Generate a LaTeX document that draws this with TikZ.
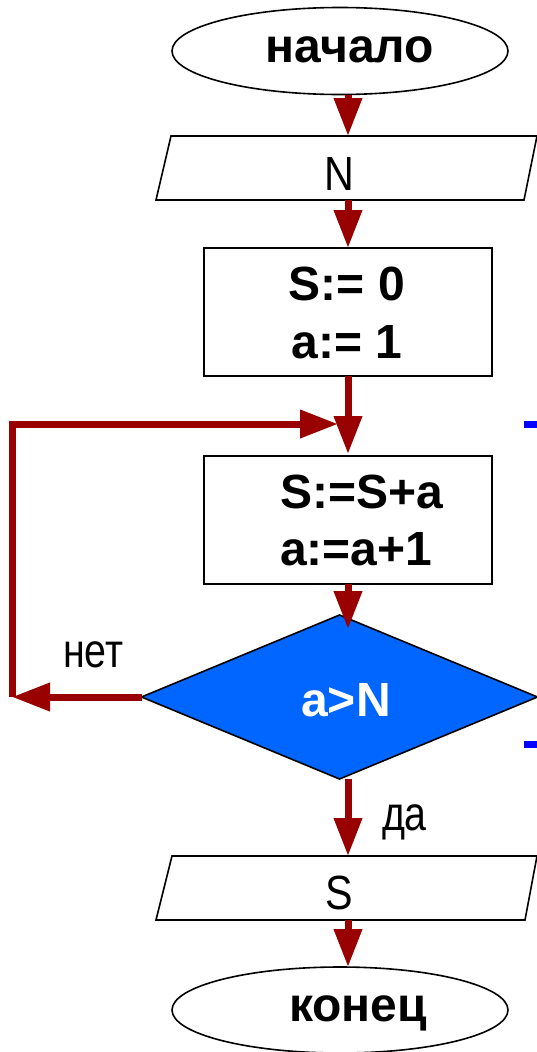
\documentclass[tikz,border=0pt]{standalone}
\usepackage{fontspec}
\setmainfont{Liberation Sans}
\usetikzlibrary{shapes.geometric, arrows.meta, calc}
\definecolor{flowred}{HTML}{990000}
\definecolor{dblue}{HTML}{0066FF}
\definecolor{dashblue}{HTML}{0000FF}
\begin{document}
\begin{tikzpicture}[x=1pt,y=-1pt,
  every node/.style={inner sep=0pt, outer sep=0pt},
  outline/.style={draw=black, line width=1.6pt},
  flow/.style={draw=flowred, line width=7pt, -{Triangle[length=38pt,width=27pt]}},
  regtxt/.style={font=\fontsize{48}{58}\selectfont, anchor=base},
  boldtxt/.style={font=\fontsize{48}{58}\selectfont\bfseries, anchor=base},
  iobox/.style={rectangle, minimum width=381pt, minimum height=64pt},
  procbox/.style={rectangle, outline, minimum width=288pt, minimum height=128pt},
  termbox/.style={ellipse, outline, minimum width=336pt, minimum height=87pt}
]
\useasboundingbox (0,0) rectangle (537,1052);

% shapes
\node[termbox] (start) at (340,51) {};
\node[boldtxt] (startT) at (350,62) {начало};

\node[iobox] (inN) at (346.5,168) {};
\draw[outline] ($(inN.north west)+(15,0)$) -- (inN.north east) -- ($(inN.south east)+(-13,0)$) -- (inN.south west) -- cycle;
\node[regtxt] (inNT) at (339,190) {\scalebox{0.86}[1]{N}};

\node[procbox] (init) at (348,312) {};
\node[boldtxt] (initA) at (347,300) {S:= 0};
\node[boldtxt] (initB) at (347,358) {a:= 1};

\node[procbox] (body) at (348,520) {};
\node[boldtxt, anchor=base west] (bodyA) at (280,508) {S:=S+a};
\node[boldtxt, anchor=base west] (bodyB) at (280,565) {a:=a+1};

\node[diamond, outline, fill=dblue, aspect=2.41, minimum width=396pt, minimum height=164pt] (cond) at (339.5,697) {};
\node[boldtxt, text=white] (condT) at (346,716) {a>N};

\node[iobox] (outS) at (346.5,888) {};
\draw[outline] ($(outS.north west)+(16,0)$) -- (outS.north east) -- ($(outS.south east)+(-12,0)$) -- (outS.south west) -- cycle;
\node[regtxt] (outST) at (339,909) {\scalebox{0.86}[1]{S}};

\node[termbox, minimum height=86pt] (stop) at (340,1010) {};
\node[boldtxt] (stopT) at (358,1021) {конец};

% labels
\node[regtxt, anchor=base west] (no) at (63,667) {\scalebox{0.82}[1]{нет}};
\node[regtxt, anchor=base west] (yes) at (382,830) {\scalebox{0.82}[1]{да}};

% blue dashes at right edge
\fill[dashblue] (524,421) rectangle (537,428);
\fill[dashblue] (524,741) rectangle (537,748);

% connectors
\coordinate (colx) at (348,0);
\coordinate (lb) at (12,697);
\coordinate (lt) at (12,424);
\coordinate (lj) at (338,424);

\draw[flow] (start.south -| colx) -- (inN.north -| colx);
\draw[flow] (inN.south -| colx) -- (init.north -| colx);
\draw[flow] (init.south -| colx) -- ($(body.north -| colx)+(0,-2)$);
\draw[flow] (body.south -| colx) -- ($(cond.north -| colx)+(0,14)$);
\draw[flow] (cond.south -| colx) -- (outS.north -| colx);
\draw[flow] (outS.south -| colx) -- (stop.north -| colx);
\draw[flow] (cond.west) -- (lb);
\draw[flow, line join=miter] (lb) -- (lt) -- (lj);
\end{tikzpicture}
\end{document}
